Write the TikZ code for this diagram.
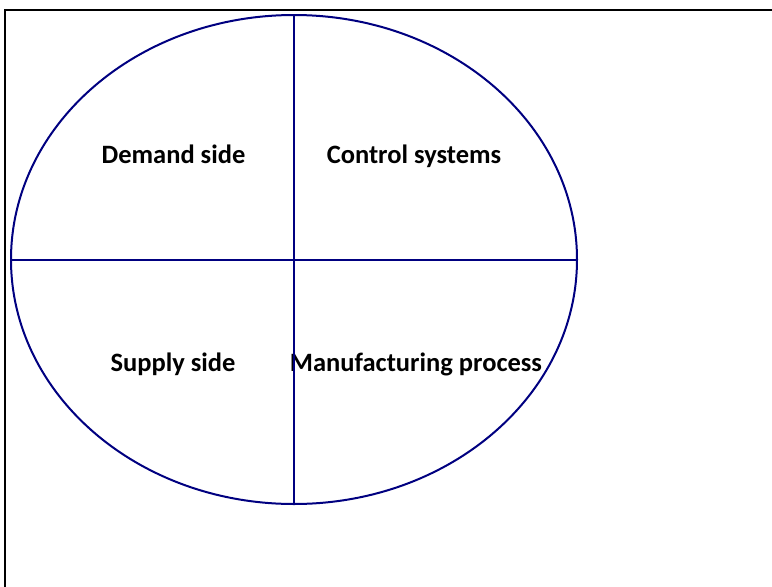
\documentclass[tikz,border=0pt]{standalone}
\usepackage{fontspec}
\setmainfont{Carlito}
\usetikzlibrary{shapes.geometric,positioning}

\begin{document}
\begin{tikzpicture}[x=1pt,y=-1pt,
  label/.style={font=\fontsize{26.5}{30}\selectfont\bfseries, anchor=base, inner sep=0pt},
  border/.style={draw=blue!50!black, line width=2pt}]
\useasboundingbox (0,0) rectangle (772,587);
% Frame
\draw[line width=2.5pt] (5,587) -- (5,10) -- (772,10);

% Wheel
\node[ellipse, border, minimum width=566pt, minimum height=489pt, inner sep=0pt] (wheel) at (294,259.5) {};

% Labels
\node[label] (demand) at (173.5,163) {Demand side};
\node[label] (control) at (414,163) {Control systems};
\node[label] (supply) at (173,371) {Supply side};
\node[label] (manuf) at (416,371) {Manufacturing process};

% Quadrants
\draw[border] (wheel.north) -- (wheel.south);
\draw[border] (wheel.west) -- (wheel.east);
\end{tikzpicture}
\end{document}
